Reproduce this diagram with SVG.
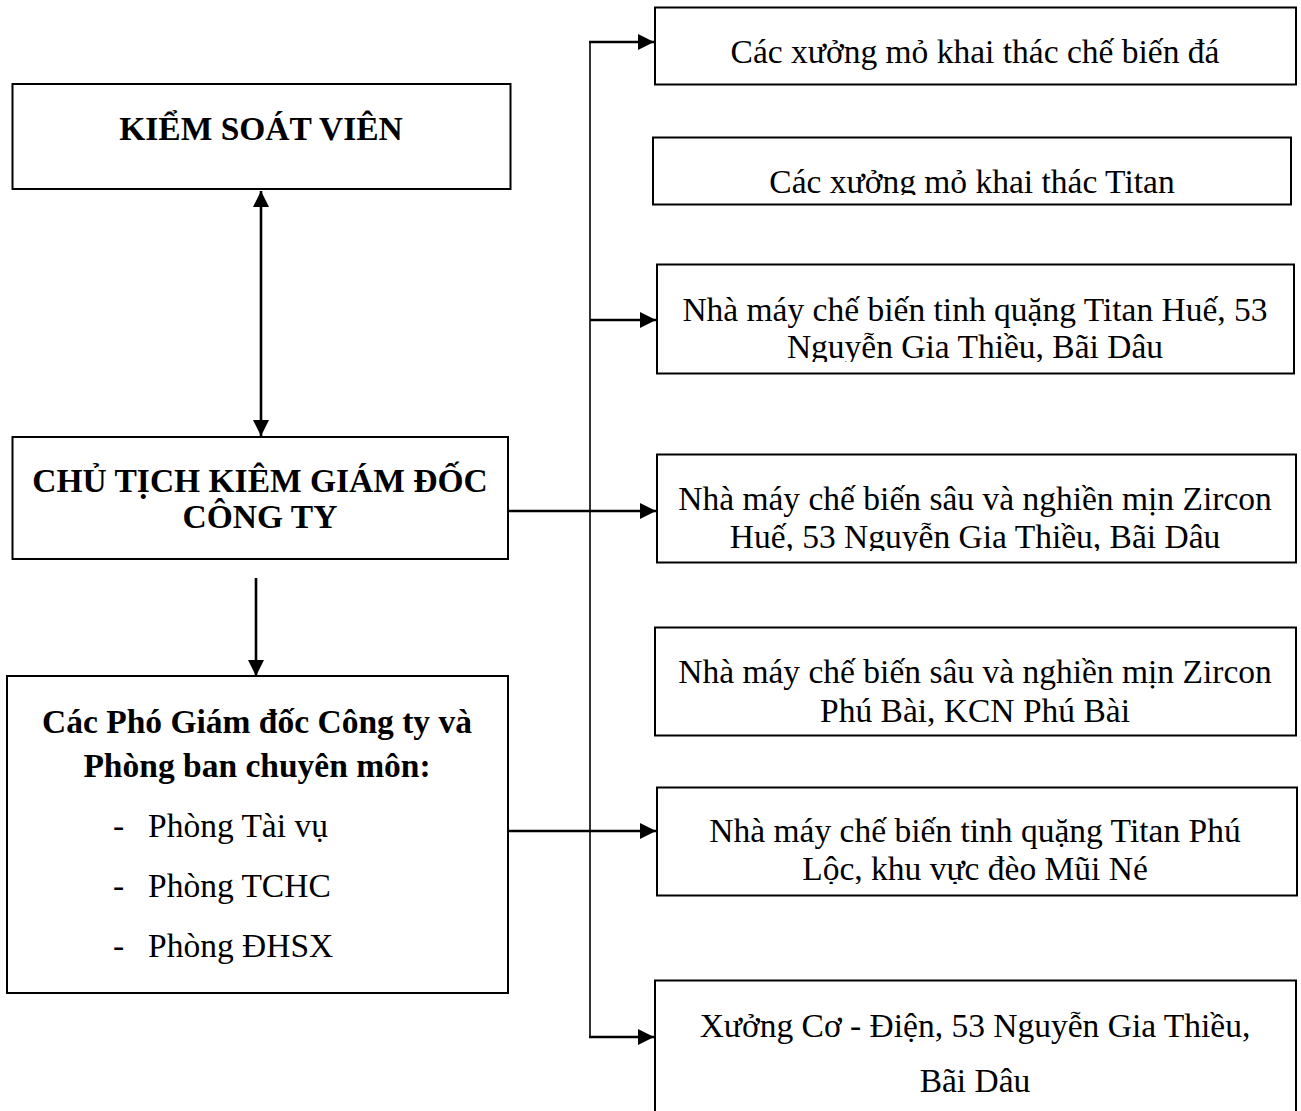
<svg xmlns="http://www.w3.org/2000/svg" width="1301" height="1111" viewBox="0 0 1301 1111">
<style>
.box{fill:#fff;stroke:#000;stroke-width:2}
.t{font-family:"Liberation Serif","Times New Roman",serif;font-size:33.5px;fill:#000;text-anchor:middle}
.b{font-weight:bold}
.l{text-anchor:start}
.c{stroke:#000;fill:none}
.thick{stroke-width:2.6}
.thin{stroke-width:1.6}
</style>
<defs>
<marker id="ah" viewBox="0 0 16 16" refX="16" refY="8" markerWidth="16" markerHeight="16" markerUnits="userSpaceOnUse" orient="auto-start-reverse"><path d="M0,0 L16,8 L0,16 Z" fill="#000"/></marker>
<clipPath id="c2"><rect x="654" y="138" width="640" height="57"/></clipPath>
<clipPath id="c3"><rect x="657" y="265" width="640" height="97"/></clipPath>
<clipPath id="c4"><rect x="657" y="455" width="640" height="96"/></clipPath>
<clipPath id="c6"><rect x="657" y="788" width="640" height="96"/></clipPath>
</defs>
<rect width="1301" height="1111" fill="#fff"/>
<g id="connectors">
<line class="c thick" x1="261" y1="191" x2="261" y2="436" marker-start="url(#ah)" marker-end="url(#ah)"/>
<line class="c thick" x1="256" y1="578" x2="256" y2="676" marker-end="url(#ah)"/>
<line class="c thin" x1="590" y1="42" x2="590" y2="1038"/>
<line class="c thick" x1="589" y1="42" x2="654" y2="42" marker-end="url(#ah)"/>
<line class="c thick" x1="590" y1="320" x2="656" y2="320" marker-end="url(#ah)"/>
<line class="c thick" x1="507" y1="511" x2="656" y2="511" marker-end="url(#ah)"/>
<line class="c thick" x1="508" y1="831" x2="656" y2="831" marker-end="url(#ah)"/>
<line class="c thick" x1="589" y1="1037" x2="654" y2="1037" marker-end="url(#ah)"/>
</g>
<g id="ksv">
<rect class="box" x="12.5" y="84" width="498" height="105"/>
<text class="t b" x="261" y="140">KIỂM SOÁT VIÊN</text>
</g>
<g id="ct">
<rect class="box" x="12.5" y="437" width="495.5" height="122"/>
<text class="t b" x="260" y="492">CHỦ TỊCH KIÊM GIÁM ĐỐC</text>
<text class="t b" x="260" y="528">CÔNG TY</text>
</g>
<g id="pgd">
<rect class="box" x="7" y="676" width="501" height="317"/>
<text class="t b" x="257" y="733">Các Phó Giám đốc Công ty và</text>
<text class="t b" x="257" y="777">Phòng ban chuyên môn:</text>
<text class="t l" x="113" y="837">-</text><text class="t l" x="148" y="837">Phòng Tài vụ</text>
<text class="t l" x="113" y="897">-</text><text class="t l" x="148" y="897">Phòng TCHC</text>
<text class="t l" x="113" y="957">-</text><text class="t l" x="148" y="957">Phòng ĐHSX</text>
</g>
<g id="r1">
<rect class="box" x="655" y="7.5" width="641" height="77"/>
<text class="t" x="975" y="63">Các xưởng mỏ khai thác chế biến đá</text>
</g>
<g id="r2">
<rect class="box" x="653" y="137.5" width="638" height="67"/>
<text class="t" x="972" y="193" clip-path="url(#c2)">Các xưởng mỏ khai thác Titan</text>
</g>
<g id="r3">
<rect class="box" x="657" y="264.5" width="637" height="109"/>
<g clip-path="url(#c3)">
<text class="t" x="975" y="321">Nhà máy chế biến tinh quặng Titan Huế, 53</text>
<text class="t" x="975" y="358">Nguyễn Gia Thiều, Bãi Dâu</text>
</g>
</g>
<g id="r4">
<rect class="box" x="657" y="454.5" width="639" height="108"/>
<g clip-path="url(#c4)">
<text class="t" x="975" y="510">Nhà máy chế biến sâu và nghiền mịn Zircon</text>
<text class="t" x="975" y="548">Huế, 53 Nguyễn Gia Thiều, Bãi Dâu</text>
</g>
</g>
<g id="r5">
<rect class="box" x="655" y="627.5" width="641" height="108"/>
<text class="t" x="975" y="683">Nhà máy chế biến sâu và nghiền mịn Zircon</text>
<text class="t" x="975" y="722">Phú Bài, KCN Phú Bài</text>
</g>
<g id="r6">
<rect class="box" x="657" y="787.5" width="640" height="108"/>
<g clip-path="url(#c6)">
<text class="t" x="975" y="842">Nhà máy chế biến tinh quặng Titan Phú</text>
<text class="t" x="975" y="880">Lộc, khu vực đèo Mũi Né</text>
</g>
</g>
<g id="r7">
<rect class="box" x="655" y="980.5" width="641" height="150"/>
<text class="t" x="975" y="1037">Xưởng Cơ - Điện, 53 Nguyễn Gia Thiều,</text>
<text class="t" x="975" y="1092">Bãi Dâu</text>
</g>
</svg>
